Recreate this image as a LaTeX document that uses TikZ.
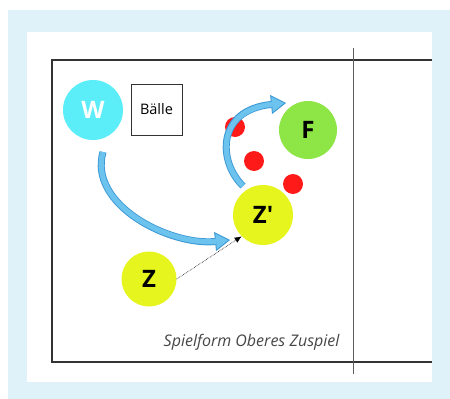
\documentclass[tikz,border=0pt]{standalone}
\usepackage{fontspec}
\setmainfont{Open Sans}[Ligatures=TeXOff]
\usetikzlibrary{arrows.meta}

\definecolor{bandblue}{HTML}{DFF2FA}
\definecolor{wcyan}{HTML}{5CEEF8}
\definecolor{fgreen}{HTML}{8DE546}
\definecolor{zyellow}{HTML}{E6F51E}
\definecolor{ballred}{HTML}{FF1A1A}
\definecolor{arrowfill}{HTML}{6CC3EE}
\definecolor{arrowedge}{HTML}{3C98D4}
\definecolor{linegray}{HTML}{333333}

\begin{document}
\begin{tikzpicture}[x=1pt,y=-1pt,
    player/.style={circle,inner sep=0pt,minimum size=#1,font=\fontsize{24}{24}\selectfont\bfseries},
    ball/.style={circle,fill=ballred,inner sep=0pt,minimum size=20pt},
    runout/.style={draw=arrowedge,line width=7pt,
      -{Triangle[length=15pt,width=19pt,line width=0.9pt,fill=arrowfill]}},
    runin/.style={draw=arrowfill,line width=5.2pt,shorten >=14pt}]
  \useasboundingbox (0,0) rectangle (450,399);
  \fill[bandblue] (8,10) rectangle (450,399);
  \fill[white] (27,32) rectangle (432,382);
  % court
  \draw[linegray,line width=1.5pt] (432,60) -- (52,60) -- (52,362) -- (432,362);
  \draw[linegray!80,line width=1pt] (353,48) -- (353,374);
  \node[anchor=base east,font=\fontsize{16}{16}\selectfont\itshape,text=linegray!90]
    (caption) at (343,346) {Spielform Oberes Zuspiel};

  \node[player=60pt,fill=wcyan,text=white] (W) at (93,110) {W};
  \node[draw=linegray,line width=0.8pt,minimum width=51pt,minimum height=51pt,
    font=\fontsize{14.5}{14.5}\selectfont] (baelle) at (156.5,109.5) {Bälle};
  \node[player=58pt,fill=fgreen,text=black] (F) at (308,130) {F};
  \node[player=60pt,fill=zyellow,text=black] (Z2) at (263,215) {Z'};
  \node[player=55pt,fill=zyellow,text=black] (Z) at (149,279) {Z};

  \node[ball] (b1) at (235,127) {};
  \node[ball] (b2) at (254,161) {};
  \node[ball] (b3) at (293,184) {};

  % runs
  \coordinate (w0) at (103,152);
  \coordinate (w1) at (230,240);
  \coordinate (z0) at (243,186);
  \coordinate (z1) at (286,103);
  \draw[runout] (w0) .. controls (88,205) and (170,246) .. (w1);
  \draw[runin] (w0) .. controls (88,205) and (170,246) .. (w1);
  \draw[runout] (z0) .. controls (218,162) and (216,110) .. (z1);
  \draw[runin] (z0) .. controls (218,162) and (216,110) .. (z1);

  \draw[densely dotted,line width=0.6pt,-{Latex[length=7pt,width=6pt]}]
    (Z.east) -- (Z2.south west);
\end{tikzpicture}
\end{document}
